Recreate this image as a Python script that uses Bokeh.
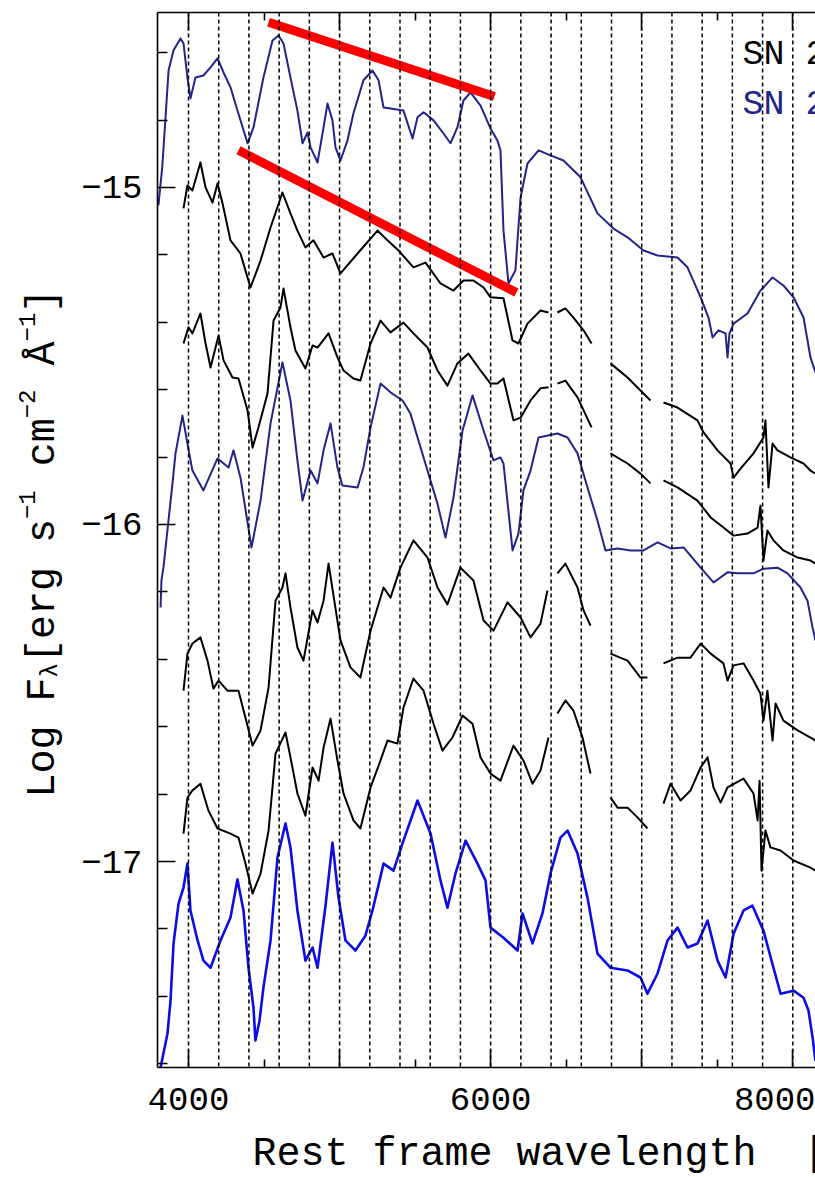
import math
from bokeh.plotting import figure
from bokeh.layouts import row, column
from bokeh.models import FixedTicker, LinearAxis, Span, Label, Range1d
from bokeh.core.properties import value
from bokeh.embed import file_html
from bokeh.resources import INLINE

# ---- spectra: (rest wavelength [A], log F_lambda); None marks a gap ----
sn_top = [(3801,-15.053),(3826,-14.941),(3848,-14.792),(3868,-14.653),(3901,-14.593),(3947,-14.558),
          (3967,-14.573),(3993,-14.674),(4013,-14.736),(4046,-14.674),(4099,-14.668),(4146,-14.644),
          (4192,-14.617),(4232,-14.659),(4278,-14.703),(4324,-14.772),(4391,-14.869),(4430,-14.822),
          (4496,-14.674),(4556,-14.564),(4596,-14.549),(4629,-14.573),(4675,-14.674),(4721,-14.772),
          (4755,-14.869),(4788,-14.837),(4808,-14.881),(4854,-14.926),(4894,-14.822),(4920,-14.751),
          (4953,-14.801),(4973,-14.881),(5006,-14.920),(5052,-14.861),(5092,-14.780),(5158,-14.682),
          (5218,-14.653),(5258,-14.682),(5291,-14.763),(5337,-14.766),(5423,-14.772),(5483,-14.855),
          (5516,-14.792),(5556,-14.777),(5622,-14.801),(5688,-14.840),(5734,-14.869),(5780,-14.822),
          (5820,-14.742),(5867,-14.718),(5933,-14.757),(5999,-14.825),(6045,-14.861),(6065,-14.890),
          (6085,-15.128),(6118,-15.285),(6164,-15.246),(6198,-15.030),(6244,-14.929),(6317,-14.890),
          (6396,-14.905),(6482,-14.920),(6595,-14.970),(6707,-15.077),(6813,-15.122),(6906,-15.148),
          (7012,-15.187),(7105,-15.202),(7237,-15.208),(7303,-15.237),(7390,-15.326),(7442,-15.386),
          (7469,-15.445),(7508,-15.424),(7555,-15.433),(7568,-15.504),(7581,-15.433),(7608,-15.404),
          (7700,-15.374),(7786,-15.306),(7866,-15.267),(7938,-15.291),(8005,-15.326),(8071,-15.386),
          (8117,-15.504),(8150,-15.549)]

sn_b = [(3967,-15.062),(3993,-14.994),(4026,-15.009),(4079,-14.926),(4113,-15.000),(4159,-15.045),
        (4192,-14.988),(4225,-15.047),(4278,-15.157),(4344,-15.196),(4410,-15.297),(4477,-15.217),
        (4543,-15.119),(4622,-15.015),(4675,-15.077),(4721,-15.128),(4774,-15.178),(4827,-15.157),
        (4894,-15.208),(4953,-15.196),(5006,-15.255),(5119,-15.196),(5251,-15.128),(5317,-15.157),
        (5390,-15.187),(5489,-15.237),(5569,-15.223),(5668,-15.285),(5754,-15.306),(5820,-15.276),
        (5886,-15.276),(5953,-15.297),(5999,-15.326),(6085,-15.329),(6145,-15.454),(6184,-15.463),
        (6244,-15.404),(6330,-15.365),(6383,-15.371), None,
        (6442,-15.371),(6495,-15.359),(6548,-15.386),(6615,-15.424),(6668,-15.463), None,
        (6793,-15.522),(6906,-15.564),(7058,-15.632), None,
        (7144,-15.638),(7237,-15.653),(7369,-15.691),(7409,-15.727),(7502,-15.780),(7588,-15.819),
        (7608,-15.861),(7654,-15.834),(7740,-15.789),(7806,-15.742),(7819,-15.691),(7839,-15.890),
        (7866,-15.760),(7899,-15.780),(7985,-15.801),(8071,-15.819),(8117,-15.840),(8150,-15.849)]

sn_c = [(3967,-15.463),(4000,-15.415),(4026,-15.433),(4079,-15.374),(4113,-15.463),(4146,-15.534),
        (4199,-15.439),(4232,-15.513),(4291,-15.564),(4331,-15.567),(4391,-15.662),(4424,-15.772),
        (4463,-15.712),(4523,-15.611),(4563,-15.395),(4609,-15.356),(4629,-15.300),(4675,-15.415),
        (4708,-15.484),(4774,-15.537),(4821,-15.469),(4854,-15.475),(4927,-15.433),(4986,-15.504),
        (5026,-15.543),(5092,-15.567),(5138,-15.573),(5205,-15.463),(5271,-15.395),(5337,-15.430),
        (5423,-15.401),(5489,-15.433),(5582,-15.475),(5648,-15.543),(5714,-15.588),(5780,-15.522),
        (5853,-15.493),(5933,-15.543),(5999,-15.582),(6045,-15.582),(6085,-15.567),(6151,-15.691),
        (6198,-15.683),(6264,-15.632),(6330,-15.596),(6383,-15.593), None,
        (6442,-15.582),(6495,-15.573),(6575,-15.623),(6668,-15.712), None,
        (6793,-15.789),(6906,-15.819),(6992,-15.849),(7058,-15.878), None,
        (7144,-15.869),(7237,-15.890),(7369,-15.929),(7456,-15.979),(7541,-16.009),(7608,-16.033),
        (7700,-16.027),(7767,-16.009),(7786,-15.944),(7806,-16.107),(7832,-16.018),(7872,-16.047),
        (7938,-16.077),(8032,-16.098),(8117,-16.107),(8150,-16.116)]

sn_d = [(3815,-16.246),(3821,-16.166),(3834,-16.128),(3894,-15.878),(3914,-15.789),(3960,-15.677),
        (3993,-15.760),(4026,-15.840),(4099,-15.899),(4192,-15.804),(4265,-15.831),(4298,-15.780),
        (4344,-15.861),(4417,-16.068),(4477,-15.929),(4543,-15.700),(4622,-15.519),(4675,-15.632),
        (4721,-15.810),(4755,-15.929),(4808,-15.840),(4854,-15.878),(4894,-15.780),(4940,-15.700),
        (4986,-15.831),(5019,-15.884),(5119,-15.890),(5158,-15.831),(5205,-15.712),(5271,-15.582),
        (5337,-15.608),(5417,-15.632),(5469,-15.671),(5556,-15.801),(5648,-15.938),(5701,-16.039),
        (5754,-15.920),(5814,-15.721),(5880,-15.617),(5953,-15.721),(6019,-15.810),(6065,-15.801),
        (6085,-15.819),(6145,-16.077),(6184,-16.027),(6217,-15.899),(6264,-15.840),(6317,-15.742),
        (6442,-15.730),(6509,-15.742),(6575,-15.789),(6641,-15.890),(6707,-15.988),(6760,-16.077),
        (6840,-16.071),(6926,-16.077),(7012,-16.077),(7105,-16.053),(7191,-16.071),(7277,-16.068),
        (7390,-16.128),(7475,-16.172),(7568,-16.142),(7634,-16.145),(7740,-16.145),(7806,-16.131),
        (7899,-16.128),(7965,-16.145),(8051,-16.187),(8097,-16.226),(8131,-16.306),(8150,-16.344)]

sn_e = [(3967,-16.493),(3993,-16.383),(4026,-16.353),(4079,-16.335),(4126,-16.404),(4165,-16.487),
        (4199,-16.463),(4258,-16.493),(4331,-16.493),(4377,-16.573),(4424,-16.656),(4477,-16.611),
        (4530,-16.484),(4576,-16.226),(4622,-16.187),(4642,-16.145),(4675,-16.246),(4721,-16.365),
        (4761,-16.404),(4821,-16.255),(4854,-16.291),(4894,-16.226),(4927,-16.116),(5006,-16.344),
        (5072,-16.424),(5138,-16.454),(5205,-16.315),(5291,-16.187),(5337,-16.217),(5403,-16.128),
        (5489,-16.047),(5582,-16.098),(5648,-16.187),(5714,-16.237),(5800,-16.128),(5886,-16.166),
        (5953,-16.285),(6019,-16.315),(6112,-16.231),(6198,-16.276),(6264,-16.335),(6330,-16.294),
        (6376,-16.196), None,
        (6442,-16.145),(6495,-16.116),(6575,-16.187),(6615,-16.255),(6661,-16.300), None,
        (6793,-16.383),(6906,-16.404),(6992,-16.454),(7038,-16.454), None,
        (7144,-16.412),(7237,-16.395),(7323,-16.395),(7390,-16.353),(7456,-16.383),(7541,-16.412),
        (7568,-16.463),(7608,-16.418),(7674,-16.412),(7740,-16.463),(7786,-16.502),(7806,-16.582),
        (7832,-16.493),(7866,-16.641),(7886,-16.531),(7938,-16.582),(8032,-16.611),(8117,-16.632),
        (8150,-16.641)]

sn_f = [(3967,-16.917),(3993,-16.810),(4026,-16.789),(4079,-16.769),(4132,-16.849),(4192,-16.902),
        (4278,-16.917),(4331,-16.929),(4377,-17.006),(4424,-17.095),(4477,-17.036),(4530,-16.908),
        (4576,-16.680),(4642,-16.617),(4675,-16.691),(4721,-16.798),(4774,-16.864),(4821,-16.721),
        (4861,-16.760),(4894,-16.662),(4940,-16.576),(4986,-16.700),(5026,-16.798),(5092,-16.878),
        (5138,-16.902),(5205,-16.780),(5271,-16.700),(5317,-16.641),(5383,-16.650),(5423,-16.543),
        (5489,-16.457),(5556,-16.493),(5622,-16.591),(5681,-16.671),(5747,-16.632),(5814,-16.567),
        (5880,-16.591),(5933,-16.691),(5999,-16.739),(6065,-16.760),(6151,-16.656),(6217,-16.700),
        (6277,-16.769),(6330,-16.730),(6383,-16.632), None,
        (6442,-16.561),(6495,-16.522),(6548,-16.552),(6608,-16.632),(6661,-16.739), None,
        (6793,-16.810),(6840,-16.840),(6906,-16.840),(6972,-16.869),(7038,-16.902), None,
        (7144,-16.828),(7191,-16.769),(7257,-16.819),(7323,-16.789),(7390,-16.721),(7436,-16.691),
        (7475,-16.780),(7522,-16.825),(7568,-16.780),(7674,-16.754),(7740,-16.798),(7767,-16.878),
        (7780,-16.760),(7793,-17.027),(7819,-16.908),(7852,-16.958),(7919,-16.967),(8005,-16.997),
        (8117,-17.018),(8150,-17.027)]

sn_g = [(3815,-17.611),(3861,-17.510),(3881,-17.413),(3901,-17.243),(3934,-17.125),(3967,-17.077),
        (3993,-17.006),(4013,-17.145),(4060,-17.234),(4099,-17.294),(4146,-17.315),(4212,-17.234),
        (4278,-17.166),(4324,-17.053),(4364,-17.145),(4397,-17.315),(4430,-17.433),(4443,-17.531),
        (4470,-17.472),(4496,-17.374),(4543,-17.234),(4589,-16.988),(4642,-16.887),(4675,-16.958),
        (4721,-17.145),(4774,-17.294),(4821,-17.255),(4854,-17.315),(4907,-17.131),(4953,-16.944),
        (4993,-17.107),(5039,-17.234),(5105,-17.264),(5171,-17.220),(5218,-17.145),(5291,-17.006),
        (5357,-17.027),(5423,-16.938),(5516,-16.819),(5602,-16.917),(5668,-17.056),(5714,-17.137),
        (5767,-17.036),(5834,-16.938),(5913,-17.006),(5966,-17.056),(5999,-17.196),(6085,-17.226),
        (6178,-17.264),(6211,-17.154),(6277,-17.243),(6343,-17.154),(6396,-17.036),(6462,-16.929),
        (6509,-16.908),(6575,-16.976),(6641,-17.107),(6707,-17.273),(6793,-17.315),(6906,-17.323),
        (6992,-17.344),(7038,-17.392),(7105,-17.332),(7171,-17.234),(7237,-17.196),(7303,-17.255),
        (7369,-17.243),(7436,-17.175),(7502,-17.294),(7555,-17.344),(7608,-17.214),(7674,-17.145),
        (7733,-17.131),(7806,-17.205),(7872,-17.315),(7919,-17.392),(8005,-17.383),(8071,-17.404),
        (8104,-17.442),(8131,-17.522),(8150,-17.591)]

# hand-drawn red guide strokes (endpoints)
guide_upper = [(4530,-14.510),(6025,-14.730)]
guide_lower = [(4331,-14.890),(6171,-15.312)]

# reference wavelengths marked by dotted lines
marker_waves = [4000,4200,4400,4600,4800,5000,5200,5400,5600,5800,6000,
                6200,6400,6600,6800,7000,7200,7400,7600,7800,8000]

x_major = [4000,5000,6000,7000,8000]
x_minor = [4500,5500,6500,7500]
x_labels = {4000:"4000",5000:"",6000:"6000",7000:"",8000:"8000"}
y_major = [-17,-16,-15]
y_minor = [-17.6,-17.4,-17.2,-16.8,-16.6,-16.4,-16.2,-15.8,-15.6,-15.4,-15.2,-14.8,-14.6]
y_labels = {-17:"\u221217",-16:"\u221216",-15:"\u221215"}

legend_names = ["SN 2", "SN 2"]
x_title_parts = [("Rest frame wavelength", 0), ("[\u00c5]", 23)]   # (text, start column)
# y title pieces: (text, role, extra leading space in characters)
y_title_parts = [("Log F", "n", 0), ("\u03bb", "sub", 0), ("[erg s", "n", 0), ("\u22121", "sup", 0),
                 ("cm", "n", 1), ("\u22122", "sup", 0), ("\u00c5", "n", 1), ("\u22121", "sup", 0),
                 ("]", "n", 0)]

NAVY = "#23238a"
BLUE = "#0c0ce6"
FONT = "Liberation Mono"

W, H = 815, 1177
LEFT_W = 70          # strip with the rotated y title
BOTTOM_H = 50        # strip with the x title
TOP_H = H - BOTTOM_H
X_RANGE = (3794.8, 8150.3)
Y_RANGE = (-17.611, -14.481)
F_LEFT, F_TOP, F_W, F_H = 157, 12, 658, 1055


def to_data(sx, sy):
    """page pixel -> data coordinate (for text placed inside the frame)"""
    x = X_RANGE[0] + (sx - F_LEFT) * (X_RANGE[1] - X_RANGE[0]) / F_W
    y = Y_RANGE[1] - (sy - F_TOP) * (Y_RANGE[1] - Y_RANGE[0]) / F_H
    return x, y


def unzip(pairs):
    xs, ys = [], []
    for p in pairs:
        if p is None:
            xs.append(float("nan")); ys.append(float("nan"))
        else:
            xs.append(p[0]); ys.append(p[1])
    return xs, ys


def text_strip(width, height):
    s = figure(width=width, height=height, output_backend="svg", toolbar_location=None,
               x_range=Range1d(0, width), y_range=Range1d(0, height), min_border=0,
               x_axis_location=None, y_axis_location=None)
    s.frame_align = False
    s.outline_line_color = None
    s.xgrid.visible = False
    s.ygrid.visible = False
    s.background_fill_color = "white"
    s.border_fill_color = "white"
    return s


# ---------------- rotated y title ----------------
pt = text_strip(LEFT_W, TOP_H)
base_x, cur = 43.0, 797.0
for txt, role, pre in y_title_parts:
    size = 40 if role == "n" else 24
    cur -= pre * 0.6 * 40
    off = {"n": 0, "sub": 7, "sup": -17}[role]
    pt.text(x=[base_x + off], y=[TOP_H - cur], text=[txt], angle=math.pi / 2,
            text_font=value(FONT), text_font_size=value(f"{size}px"),
            text_color="black", text_baseline="alphabetic", text_align="left")
    cur -= 0.6 * size * len(txt)

# ---------------- x title ----------------
pb = text_strip(W, BOTTOM_H)
for txt, col0 in x_title_parts:
    pb.text(x=[252 + 24 * col0], y=[BOTTOM_H - (1154 - TOP_H)], text=[txt],
            text_font=value(FONT), text_font_size=value("40px"), text_color="black",
            text_baseline="alphabetic", text_align="left")

# ---------------- main spectra panel ----------------
p = figure(width=W - LEFT_W, height=TOP_H, output_backend="svg", toolbar_location=None,
           x_range=Range1d(*X_RANGE), y_range=Range1d(*Y_RANGE),
           min_border_left=F_LEFT - LEFT_W, min_border_right=0, min_border_top=F_TOP,
           min_border_bottom=TOP_H - (F_TOP + F_H))
p.frame_align = False
p.outline_line_color = None
p.xgrid.visible = False
p.ygrid.visible = False
p.background_fill_color = "white"
p.border_fill_color = "white"

for w in marker_waves:
    p.add_layout(Span(location=w, dimension="height", line_color="black",
                      line_width=1.5, line_dash="4 3"))

for pairs, col, lw in [(sn_top, NAVY, 2), (sn_b, "black", 2), (sn_c, "black", 2),
                       (sn_d, NAVY, 2), (sn_e, "black", 2), (sn_f, "black", 2),
                       (sn_g, BLUE, 2.6)]:
    xs, ys = unzip(pairs)
    p.line(xs, ys, line_color=col, line_width=lw, line_join="round")

for g in (guide_upper, guide_lower):
    xs, ys = unzip(g)
    p.line(xs, ys, line_color="#ff0000", line_width=9)


def style_axis(ax, major, minor, labels, tick_in, minor_in):
    ax.ticker = FixedTicker(ticks=major, minor_ticks=minor)
    ax.major_label_overrides = labels
    ax.axis_line_width = 1.6
    ax.axis_line_color = "black"
    ax.major_tick_in = tick_in
    ax.major_tick_out = 0
    ax.minor_tick_in = minor_in
    ax.minor_tick_out = 0
    ax.major_tick_line_width = 1.6
    ax.minor_tick_line_width = 1.6
    ax.major_tick_line_color = "black"
    ax.minor_tick_line_color = "black"
    ax.major_label_text_font = FONT
    ax.major_label_text_font_size = "34px"
    ax.major_label_text_color = "black"


xa = p.xaxis[0]
style_axis(xa, x_major, x_minor, x_labels, 18, 8)
xa.major_label_standoff = 20

ya = p.yaxis[0]
style_axis(ya, y_major, y_minor, y_labels, 18, 10)
ya.major_label_standoff = 15

top = LinearAxis()
style_axis(top, x_major, x_minor, {t: "" for t in x_major}, 18, 8)
top.major_label_standoff = 0
top.major_label_text_font_size = "1px"
p.add_layout(top, "above")

# legend entries (extend past the right edge)
for i, (name, col) in enumerate(zip(legend_names, ["black", NAVY])):
    lx, ly = to_data(742, 54 + 50 * i)
    p.add_layout(Label(x=lx, y=ly, text=name, text_font=FONT, text_font_size="35px",
                       text_color=col, text_baseline="alphabetic", text_align="left"))

layout = column(row(pt, p), pb)
open("out.html", "w").write(file_html(layout, INLINE))
